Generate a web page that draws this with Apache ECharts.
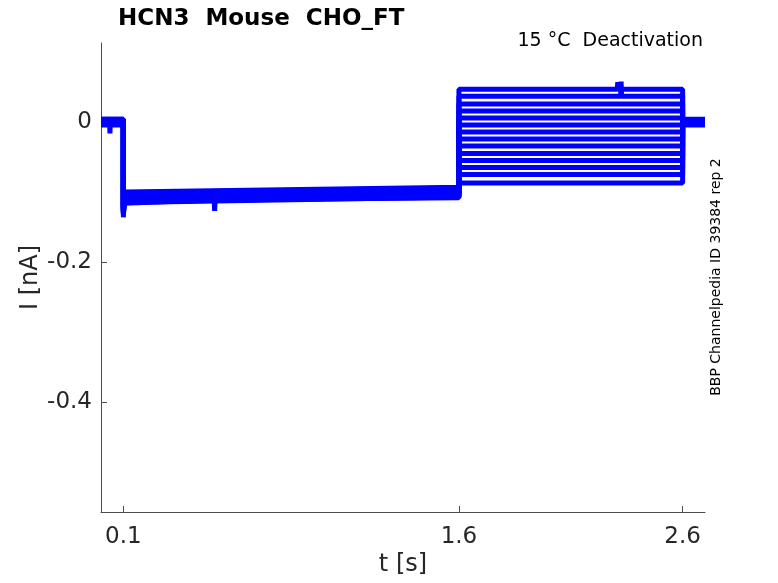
<!DOCTYPE html>
<html>
<head>
<meta charset="utf-8">
<script src="https://cdn.jsdelivr.net/npm/echarts@6/dist/echarts.min.js"></script>
<style>
html,body{margin:0;padding:0;background:#fff;}
#chart{width:778px;height:583px;}
</style>
</head>
<body>
<div id="chart"></div>
<script>
// Phase boundaries of the protocol [s]
const phaseTimes = [0, 0.1, 1.6, 2.6, 2.7];
const settleTime = 0.104;
// Per-sweep current levels [nA] (14 sweeps)
const preLevels   = [0.003, -0.002, 0.004, 0.000, -0.003, 0.002, -0.001, 0.003, -0.004, 0.001, -0.002, 0.004, 0.000, -0.003];
const onsetPeaks  = [-0.136, -0.128, -0.124, -0.130, -0.122, -0.126, -0.132, -0.121, -0.127, -0.129, -0.123, -0.125, -0.120, -0.131];
const holdStart   = [-0.108, -0.103, -0.114, -0.106, -0.100, -0.110, -0.116, -0.102, -0.107, -0.112, -0.105, -0.109, -0.101, -0.115];
const holdEnd     = [-0.101, -0.096, -0.106, -0.099, -0.093, -0.103, -0.108, -0.095, -0.100, -0.105, -0.098, -0.102, -0.094, -0.107];
const stepLevels  = [0.047, 0.037, 0.026, 0.016, 0.006, -0.004, -0.014, -0.024, -0.034, -0.045, -0.055, -0.065, -0.075, -0.087];
const tailLevels  = [0.002, -0.003, 0.004, 0.000, -0.002, 0.003, -0.004, 0.001, -0.001, 0.003, -0.003, 0.002, 0.000, -0.002];
// Isolated glitches: [sweep, t, before, peak, after]
const glitches = [
  [0, 0.040, 0.003, -0.016, 0.003],
  [6, 0.508, -0.111, -0.127, -0.111],
  [0, 2.310, 0.047, 0.057, 0.047],
  [1, 2.325, 0.037, 0.058, 0.037]
];
const xTicks = [0.1, 1.6, 2.6];
const yTicks = [-0.4, -0.2, 0];

function buildSweep(i) {
  const pts = [
    [phaseTimes[0], preLevels[i]],
    [phaseTimes[1], preLevels[i]],
    [phaseTimes[1], onsetPeaks[i]],
    [settleTime, holdStart[i]],
    [phaseTimes[2], holdEnd[i]],
    [phaseTimes[2], stepLevels[i]],
    [phaseTimes[3], stepLevels[i]],
    [phaseTimes[3], tailLevels[i]],
    [phaseTimes[4], tailLevels[i]]
  ];
  glitches.filter(g => g[0] === i).forEach(g => {
    pts.push([g[1] - 0.002, g[2]], [g[1], g[3]], [g[1] + 0.002, g[4]]);
  });
  return pts.map((p, k) => [p[0], p[1], k]).sort((a, b) => a[0] - b[0] || a[2] - b[2]).map(p => [p[0], p[1]]);
}

const series = stepLevels.map((_, i) => ({
  type: 'line',
  data: buildSweep(i),
  showSymbol: false,
  symbol: 'none',
  lineStyle: { color: '#0000ff', width: 5 },
  silent: true,
  animation: false
}));

const chart = echarts.init(document.getElementById('chart'), null, { renderer: 'canvas' });
const font = 'DejaVu Sans';
chart.setOption({
  backgroundColor: '#ffffff',
  animation: false,
  title: {
    text: 'HCN3  Mouse  CHO_FT',
    left: 113, top: 3,
    textStyle: { fontFamily: font, fontWeight: 'bold', fontSize: 23, color: '#000' }
  },
  grid: { left: 101, right: 73, top: 43, bottom: 71, containLabel: false },
  xAxis: {
    type: 'value', min: 0, max: 2.7,
    name: 't [s]', nameLocation: 'middle', nameGap: 41, nameMoveOverlap: false,
    nameTextStyle: { fontFamily: font, fontSize: 24, color: '#262626' },
    axisLine: { show: true, onZero: false, lineStyle: { color: '#4d4d4d', width: 1 } },
    axisTick: { show: true, inside: true, length: 6, customValues: xTicks, lineStyle: { color: '#4d4d4d' } },
    axisLabel: { customValues: xTicks, margin: 14, fontFamily: font, fontSize: 23, color: '#262626', formatter: v => String(v) },
    splitLine: { show: false }
  },
  yAxis: {
    type: 'value', min: -0.557, max: 0.113,
    name: 'I [nA]', nameLocation: 'middle', nameGap: 58, nameMoveOverlap: false,
    nameTextStyle: { fontFamily: font, fontSize: 24, color: '#262626' },
    axisLine: { show: true, onZero: false, lineStyle: { color: '#4d4d4d', width: 1 } },
    axisTick: { show: true, inside: true, length: 6, customValues: yTicks, lineStyle: { color: '#4d4d4d' } },
    axisLabel: { customValues: yTicks, margin: 9, fontFamily: font, fontSize: 23, color: '#262626', formatter: v => (v === 0 ? '0' : String(v)) },
    splitLine: { show: false }
  },
  graphic: [
    {
      type: 'text', x: 703, y: 41,
      style: { text: '15 °C  Deactivation', font: '19px "DejaVu Sans"', fill: '#000', align: 'right', verticalAlign: 'middle' }
    },
    {
      type: 'text', x: 716, y: 277, rotation: Math.PI / 2,
      style: { text: 'BBP Channelpedia ID 39384 rep 2', font: '14px "DejaVu Sans"', fill: '#000', align: 'center', verticalAlign: 'middle' }
    }
  ],
  series: series
});
</script>
</body>
</html>
